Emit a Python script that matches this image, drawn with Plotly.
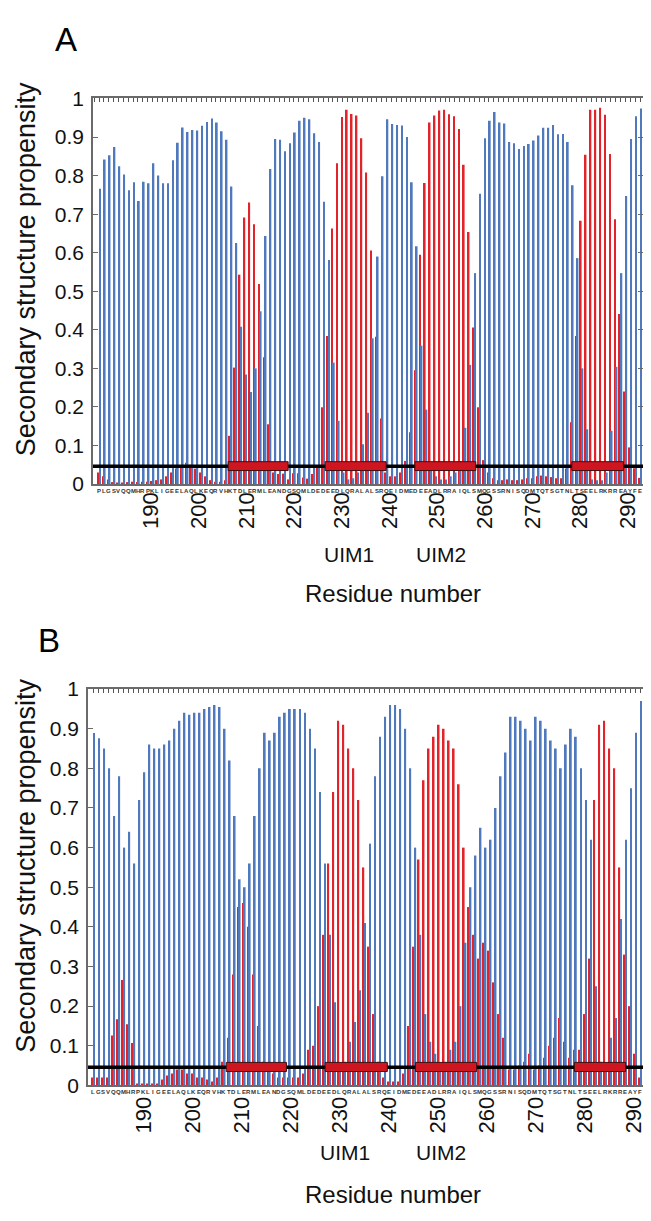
import plotly.graph_objects as go

# The page body keeps the browser's default 8 px margin, so the figure is made
# 8 px smaller and every pixel position below is measured on the full 651x1221 view.
OFF = 8
W, H = 651 - OFF, 1221 - OFF

# ---------------- data ----------------
sequence_A = list("PLGSVQQMHRPKLIGEELAQLKEQRVHKTDLERMLEANDGSQMLDEDEEDLQRALALSRQEIDMEDEEADLRRAIQLSMQGSSRNISQDMTQTSGTNLTSEELRKRREAYFE")
residues_A = list(range(179, 291))
coil_A = [0.766, 0.842, 0.853, 0.874, 0.824, 0.803, 0.762, 0.783, 0.734, 0.784,
          0.780, 0.832, 0.800, 0.780, 0.780, 0.840, 0.885, 0.925, 0.913, 0.918,
          0.917, 0.929, 0.939, 0.948, 0.938, 0.915, 0.893, 0.772, 0.625, 0.408,
          0.284, 0.239, 0.300, 0.448, 0.643, 0.817, 0.895, 0.893, 0.863, 0.884,
          0.912, 0.942, 0.950, 0.946, 0.910, 0.887, 0.732, 0.581, 0.315, 0.164,
          0.030, 0.012, 0.015, 0.030, 0.103, 0.185, 0.378, 0.590, 0.798, 0.946,
          0.934, 0.931, 0.930, 0.900, 0.783, 0.617, 0.359, 0.193, 0.040, 0.020,
          0.012, 0.012, 0.020, 0.030, 0.060, 0.146, 0.309, 0.547, 0.753, 0.897,
          0.942, 0.965, 0.938, 0.935, 0.887, 0.884, 0.869, 0.877, 0.882, 0.891,
          0.904, 0.924, 0.924, 0.931, 0.907, 0.908, 0.887, 0.775, 0.586, 0.300,
          0.142, 0.012, 0.010, 0.010, 0.030, 0.138, 0.304, 0.547, 0.747, 0.895,
          0.954, 0.974]
helix_A = [0.030, 0.020, 0.012, 0.005, 0.004, 0.004, 0.005, 0.006, 0.005, 0.006,
           0.006, 0.008, 0.010, 0.012, 0.020, 0.030, 0.040, 0.045, 0.055, 0.050,
           0.040, 0.030, 0.020, 0.010, 0.006, 0.006, 0.010, 0.125, 0.302, 0.543,
           0.691, 0.730, 0.674, 0.519, 0.329, 0.155, 0.030, 0.026, 0.027, 0.012,
           0.028, 0.028, 0.017, 0.014, 0.026, 0.047, 0.199, 0.384, 0.663, 0.832,
           0.952, 0.971, 0.960, 0.956, 0.897, 0.808, 0.606, 0.382, 0.170, 0.030,
           0.020, 0.020, 0.030, 0.060, 0.134, 0.295, 0.595, 0.781, 0.938, 0.956,
           0.969, 0.971, 0.959, 0.954, 0.921, 0.828, 0.654, 0.406, 0.199, 0.062,
           0.030, 0.015, 0.010, 0.010, 0.012, 0.010, 0.010, 0.012, 0.015, 0.015,
           0.020, 0.022, 0.020, 0.018, 0.015, 0.015, 0.040, 0.160, 0.384, 0.683,
           0.854, 0.971, 0.971, 0.976, 0.958, 0.856, 0.687, 0.441, 0.240, 0.095,
           0.041, 0.016]

sequence_B = list("LGSVQQMHRPKLIGEELAQLKEQRVHKTDLERMLEANDGSQMLDEDEEDLQRALALSRQEIDMEDEEADLRRAIQLSMQGSSRNISQDMTQTSGTNLTSEELRKRREAYFE")
residues_B = list(range(180, 291))
coil_B = [0.889, 0.876, 0.850, 0.800, 0.680, 0.780, 0.600, 0.640, 0.560, 0.720,
          0.790, 0.860, 0.850, 0.850, 0.860, 0.870, 0.900, 0.920, 0.940, 0.935,
          0.940, 0.940, 0.950, 0.955, 0.960, 0.955, 0.900, 0.820, 0.680, 0.520,
          0.500, 0.560, 0.680, 0.800, 0.890, 0.870, 0.890, 0.930, 0.940, 0.950,
          0.950, 0.950, 0.940, 0.900, 0.850, 0.740, 0.560, 0.380, 0.210, 0.050,
          0.060, 0.110, 0.160, 0.240, 0.410, 0.610, 0.780, 0.880, 0.930, 0.960,
          0.960, 0.950, 0.900, 0.800, 0.600, 0.380, 0.180, 0.110, 0.080, 0.050,
          0.060, 0.090, 0.110, 0.200, 0.360, 0.500, 0.580, 0.650, 0.600, 0.620,
          0.700, 0.780, 0.840, 0.930, 0.930, 0.920, 0.900, 0.870, 0.930, 0.920,
          0.900, 0.870, 0.850, 0.800, 0.860, 0.900, 0.880, 0.800, 0.720, 0.620,
          0.250, 0.060, 0.050, 0.120, 0.170, 0.420, 0.620, 0.750, 0.890, 0.970,
          0.980]
helix_B = [0.020, 0.020, 0.020, 0.020, 0.126, 0.167, 0.266, 0.154, 0.107, 0.005,
           0.005, 0.005, 0.005, 0.005, 0.015, 0.025, 0.030, 0.040, 0.040, 0.030,
           0.030, 0.020, 0.020, 0.015, 0.010, 0.020, 0.060, 0.120, 0.280, 0.450,
           0.460, 0.400, 0.280, 0.150, 0.060, 0.050, 0.030, 0.020, 0.020, 0.020,
           0.020, 0.020, 0.030, 0.090, 0.100, 0.200, 0.380, 0.560, 0.740, 0.920,
           0.910, 0.850, 0.800, 0.720, 0.550, 0.350, 0.180, 0.060, 0.020, 0.010,
           0.010, 0.010, 0.030, 0.150, 0.350, 0.570, 0.770, 0.850, 0.880, 0.910,
           0.900, 0.870, 0.850, 0.760, 0.600, 0.450, 0.380, 0.320, 0.360, 0.340,
           0.260, 0.180, 0.120, 0.040, 0.040, 0.050, 0.060, 0.080, 0.040, 0.050,
           0.070, 0.100, 0.120, 0.170, 0.110, 0.070, 0.090, 0.090, 0.180, 0.320,
           0.720, 0.910, 0.920, 0.850, 0.800, 0.550, 0.330, 0.200, 0.080, 0.020,
           0.010]

helix_boxes_A = [(205.5, 217.8), (225.4, 237.9), (243.8, 256.3), (276.0, 286.6)]
helix_boxes_B = [(206.5, 218.5), (226.2, 238.6), (244.2, 256.4), (275.9, 286.1)]
baseline_level = 0.046

x_tick_values = [190, 200, 210, 220, 230, 240, 250, 260, 270, 280, 290]
y_tick_values = [0, 0.1, 0.2, 0.3, 0.4, 0.5, 0.6, 0.7, 0.8, 0.9, 1]
y_tick_text = ["0", "0.1", "0.2", "0.3", "0.4", "0.5", "0.6", "0.7", "0.8", "0.9", "1"]
uim_labels = ["UIM1", "UIM2"]
uim_centres = [230.2, 249.2]
panel_labels = ["A", "B"]

# ---------------- style / layout ----------------
BLUE = "#5079bd"
RED = "#e3232a"
FRAME = "#6a6a6a"
FONT = "Liberation Sans, Arial, sans-serif"

def px_x(p):
    return (p - OFF) / W

def px_y(p):
    return 1 - (p - OFF) / H

# xr: bar scale; lr: residue-number ruler; lab_y: pixel row of that ruler
panels = [
    dict(res=residues_A, seq=sequence_A, coil=coil_A, helix=helix_A, boxes=helix_boxes_A,
         xpx=(93, 643), ypx=(88, 481), xr=(177.77, 290.6), lr=(177.84, 293.14), lab_y=484,
         letter_y=488, uim_y=553, title_y=593, ytitle=(26, 262), label=(66, 28)),
    dict(res=residues_B, seq=sequence_B, coil=coil_B, helix=helix_B, boxes=helix_boxes_B,
         xpx=(88, 649), ypx=(690, 1094), xr=(178.95, 290.75), lr=(178.57, 293.06), lab_y=1100,
         letter_y=1101, uim_y=1162, title_y=1205, ytitle=(26, 870), label=(49, 640)),
]

fig = go.Figure()
annotations = []
shapes = []
layout = {}

for k, p in enumerate(panels):
    n = k + 1
    xa = "x" if n == 1 else "x%d" % n
    ya = "y" if n == 1 else "y%d" % n
    xkey = "xaxis" if n == 1 else "xaxis%d" % n
    ykey = "yaxis" if n == 1 else "yaxis%d" % n
    top_n, lab_n = n + 2, n + 4
    topkey, labkey = "xaxis%d" % top_n, "xaxis%d" % lab_n

    fig.add_trace(go.Bar(x=p["res"], y=p["helix"], marker=dict(color=RED, line=dict(width=0)),
                         xaxis=xa, yaxis=ya, showlegend=False, name="helix"))
    fig.add_trace(go.Bar(x=p["res"], y=p["coil"], marker=dict(color=BLUE, line=dict(width=0)),
                         xaxis=xa, yaxis=ya, showlegend=False, name="coil"))
    # invisible anchors so the overlay rulers are drawn
    for an in (top_n, lab_n):
        fig.add_trace(go.Scatter(x=x_tick_values, y=[0.5] * len(x_tick_values), mode="markers",
                                 marker=dict(opacity=0, size=1), xaxis="x%d" % an, yaxis=ya,
                                 showlegend=False, hoverinfo="skip"))

    dom_x = [px_x(p["xpx"][0]), px_x(p["xpx"][1])]
    dom_y = [px_y(p["ypx"][1]), px_y(p["ypx"][0])]
    layout[xkey] = dict(domain=dom_x, range=list(p["xr"]), anchor=ya,
                        showticklabels=False, ticks="",
                        showline=True, linecolor=FRAME, linewidth=1.5, mirror=True,
                        showgrid=False, zeroline=False)
    layout[topkey] = dict(overlaying=xa, anchor=ya, side="top", range=list(p["xr"]),
                          tickmode="linear", tick0=p["res"][0], dtick=1,
                          ticks="inside", ticklen=4, tickwidth=1, tickcolor="#555",
                          showticklabels=False, showgrid=False, showline=False, zeroline=False)
    layout[labkey] = dict(overlaying=xa, anchor="free", position=px_y(p["lab_y"]),
                          side="bottom", range=list(p["lr"]),
                          tickmode="array", tickvals=x_tick_values,
                          ticktext=[str(v) for v in x_tick_values], tickangle=-90,
                          tickfont=dict(size=22, color="#111", family=FONT),
                          ticks="", showticklabels=True, ticklabeloverflow="allow",
                          showgrid=False, showline=False, zeroline=False)
    layout[ykey] = dict(domain=dom_y, range=[0, 1], anchor=xa,
                        tickmode="array", tickvals=y_tick_values, ticktext=y_tick_text,
                        tickfont=dict(size=21, color="#111", family=FONT),
                        ticks="inside", ticklen=5, tickcolor=FRAME, ticklabelstandoff=3,
                        showline=True, linecolor=FRAME, linewidth=1.5, mirror="ticks",
                        showgrid=False, zeroline=False)

    # baseline and helix boxes
    shapes.append(dict(type="line", xref=xa, yref=ya, x0=p["xr"][0], x1=p["xr"][1],
                       y0=baseline_level, y1=baseline_level, line=dict(color="black", width=3.5)))
    for (b0, b1) in p["boxes"]:
        shapes.append(dict(type="rect", xref=xa, yref=ya, x0=b0, x1=b1,
                           y0=baseline_level - 0.011, y1=baseline_level + 0.012,
                           fillcolor="#cf1520", line=dict(color="#401010", width=1)))

    # sequence letters
    for r, ch in zip(p["res"], p["seq"]):
        annotations.append(dict(x=r, y=px_y(p["letter_y"]), xref=xa, yref="paper",
                                text="<b>%s</b>" % ch, showarrow=False,
                                font=dict(size=6, color="#333", family=FONT),
                                xanchor="center", yanchor="middle", borderpad=0))
    # UIM labels
    for lab, c in zip(uim_labels, uim_centres):
        annotations.append(dict(x=c, y=px_y(p["uim_y"]), xref=xa, yref="paper", text=lab,
                                showarrow=False, font=dict(size=21, color="#111", family=FONT),
                                xanchor="center", yanchor="middle"))
    annotations.append(dict(x=px_x(393), y=px_y(p["title_y"]), xref="paper", yref="paper",
                            text="Residue number", showarrow=False,
                            font=dict(size=24, color="#111", family=FONT),
                            xanchor="center", yanchor="middle"))
    annotations.append(dict(x=px_x(p["ytitle"][0]), y=px_y(p["ytitle"][1]), xref="paper", yref="paper",
                            text="Secondary structure propensity", showarrow=False, textangle=-90,
                            font=dict(size=27, color="#111", family=FONT),
                            xanchor="center", yanchor="middle", borderpad=0))
    annotations.append(dict(x=px_x(p["label"][0]), y=px_y(p["label"][1]), xref="paper", yref="paper",
                            text=panel_labels[k], showarrow=False,
                            font=dict(size=33, color="#000", family=FONT),
                            xanchor="center", yanchor="middle"))

fig.update_layout(width=W, height=H, margin=dict(l=0, r=0, t=0, b=0),
                  paper_bgcolor="white", plot_bgcolor="white",
                  barmode="group", bargap=0.3, bargroupgap=0.0,
                  annotations=annotations, shapes=shapes, **layout)

fig.write_html("out.html")
